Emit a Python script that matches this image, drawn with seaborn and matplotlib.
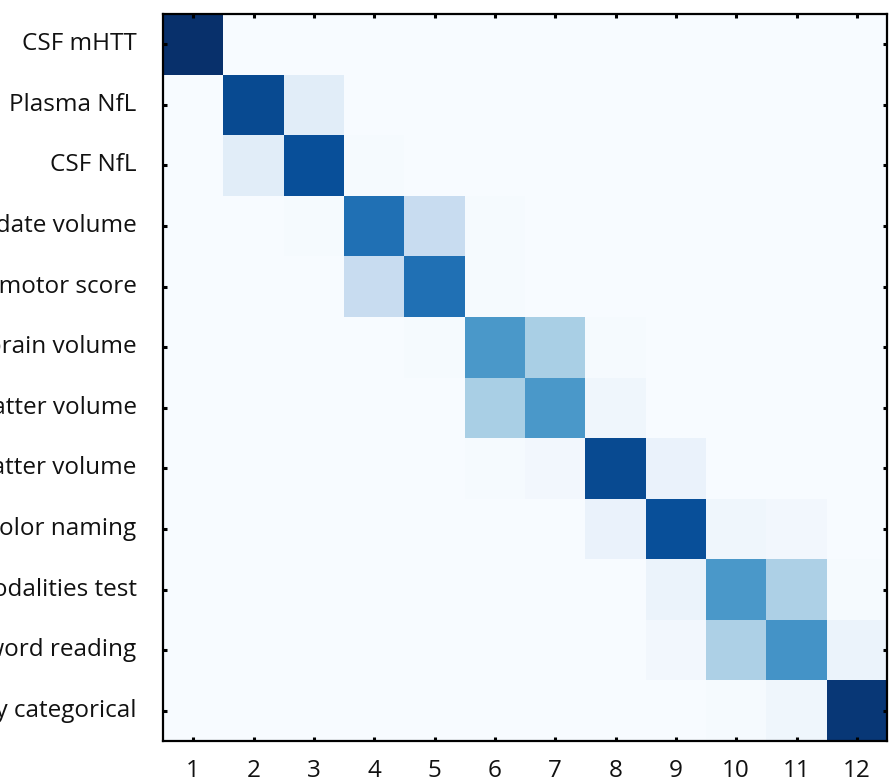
import numpy as np
import pandas as pd
import matplotlib
matplotlib.use("Agg")
import matplotlib.pyplot as plt
import seaborn as sns

measures = [
    "CSF mHTT",
    "Plasma NfL",
    "CSF NfL",
    "Caudate volume",
    "Total motor score",
    "Whole-brain volume",
    "Grey matter volume",
    "White matter volume",
    "Stroop color naming",
    "Symbol digit modalities test",
    "Stroop word reading",
    "Verbal fluency categorical",
]
components = [str(i) for i in range(1, 13)]

# loading strength of each measure (rows) on each component (columns)
row_csf_mhtt = [1.00, 0.00, 0.00, 0.00, 0.00, 0.00, 0.00, 0.00, 0.00, 0.00, 0.00, 0.00]
row_plasma_nfl = [0.00, 0.90, 0.11, 0.00, 0.00, 0.00, 0.00, 0.00, 0.00, 0.00, 0.00, 0.00]
row_csf_nfl = [0.00, 0.11, 0.88, 0.01, 0.00, 0.00, 0.00, 0.00, 0.00, 0.00, 0.00, 0.00]
row_caudate = [0.00, 0.00, 0.01, 0.75, 0.24, 0.01, 0.00, 0.00, 0.00, 0.00, 0.00, 0.00]
row_tms = [0.00, 0.00, 0.00, 0.24, 0.75, 0.01, 0.00, 0.00, 0.00, 0.00, 0.00, 0.00]
row_whole_brain = [0.00, 0.00, 0.00, 0.00, 0.01, 0.60, 0.34, 0.01, 0.00, 0.00, 0.00, 0.00]
row_grey = [0.00, 0.00, 0.00, 0.00, 0.00, 0.34, 0.60, 0.04, 0.00, 0.00, 0.00, 0.00]
row_white = [0.00, 0.00, 0.00, 0.00, 0.00, 0.01, 0.03, 0.90, 0.07, 0.00, 0.00, 0.00]
row_color_naming = [0.00, 0.00, 0.00, 0.00, 0.00, 0.00, 0.00, 0.07, 0.88, 0.04, 0.03, 0.00]
row_sdmt = [0.00, 0.00, 0.00, 0.00, 0.00, 0.00, 0.00, 0.00, 0.06, 0.60, 0.33, 0.01]
row_word_reading = [0.00, 0.00, 0.00, 0.00, 0.00, 0.00, 0.00, 0.00, 0.03, 0.33, 0.62, 0.06]
row_verbal = [0.00, 0.00, 0.00, 0.00, 0.00, 0.00, 0.00, 0.00, 0.00, 0.01, 0.04, 0.97]

loadings = pd.DataFrame(
    [row_csf_mhtt, row_plasma_nfl, row_csf_nfl, row_caudate, row_tms,
     row_whole_brain, row_grey, row_white, row_color_naming, row_sdmt,
     row_word_reading, row_verbal],
    index=measures, columns=components,
)

sns.set_theme(style="white")
plt.rcParams["font.family"] = ["Open Sans", "DejaVu Sans"]

W, H = 889, 779
fig = plt.figure(figsize=(W / 100, H / 100), dpi=100)
ax = fig.add_axes([163 / W, (H - 741) / H, 724 / W, 727 / H])

sns.heatmap(loadings, cmap="Blues", vmin=0, vmax=1, cbar=False, ax=ax)

# frame and inward ticks drawn above the cells
ax.set_axisbelow(False)
for side in ["left", "right", "top", "bottom"]:
    ax.spines[side].set_visible(True)
    ax.spines[side].set_color("black")
    ax.spines[side].set_linewidth(1.6)
    ax.spines[side].set_zorder(5)

ax.tick_params(axis="both", which="major", direction="in", length=3,
               width=2.2, color="black",
               left=True, right=True, top=True, bottom=True,
               labelleft=True, labelbottom=True, labeltop=False, labelright=False)
ax.tick_params(axis="y", pad=19, labelsize=17.5, labelcolor="#111111", rotation=0)
ax.tick_params(axis="x", pad=13, labelsize=17.5, labelcolor="#111111", rotation=0)
ax.set_xlabel("")
ax.set_ylabel("")

fig.savefig("out.png", dpi=100)
